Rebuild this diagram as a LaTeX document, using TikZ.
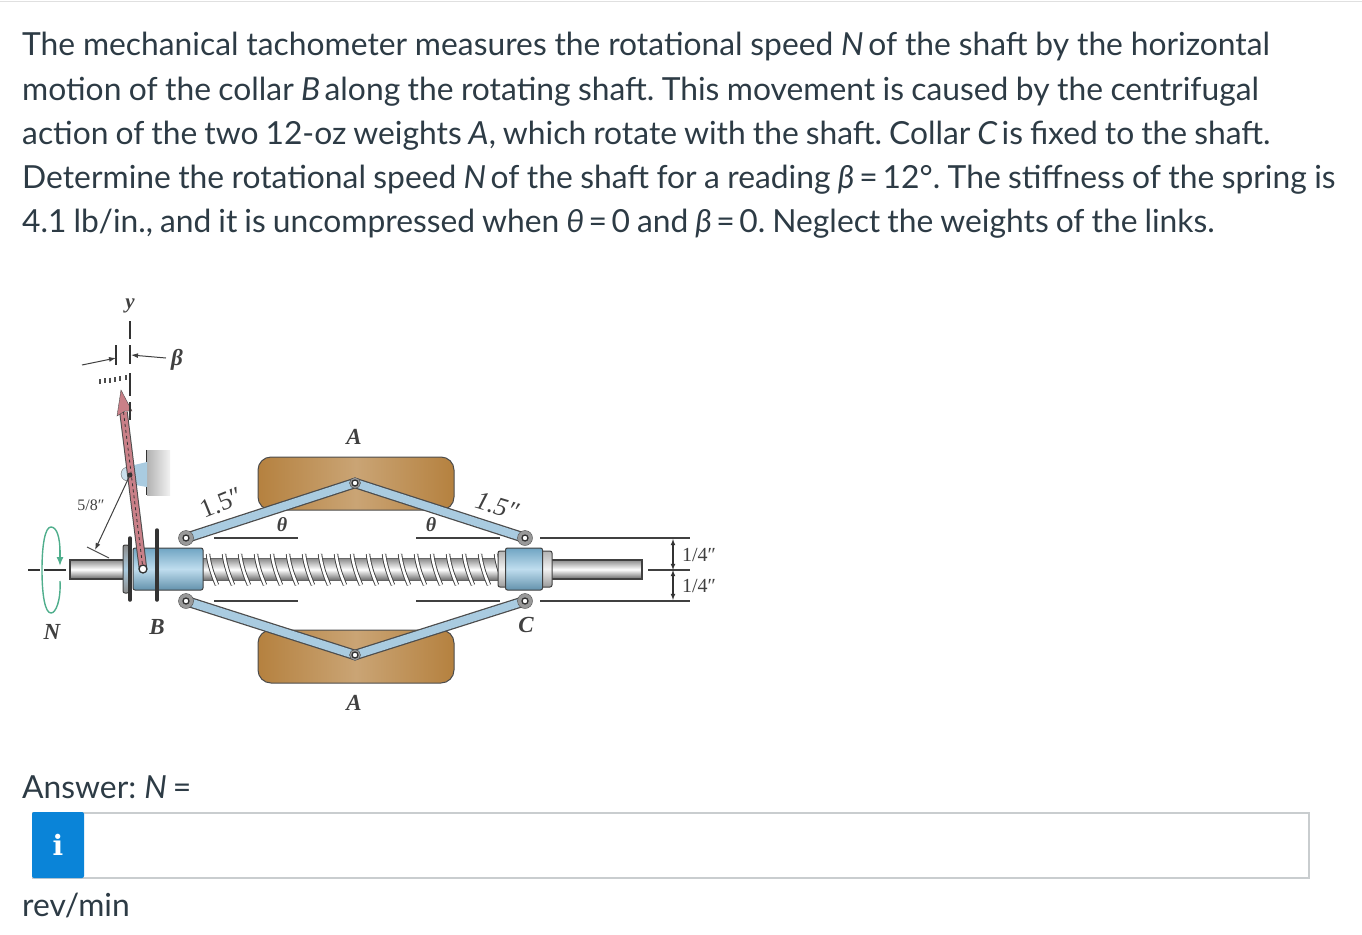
\documentclass[tikz,border=0pt]{standalone}
\usepackage{fontspec}
\setmainfont{Lato}
\newfontfamily\figfont{Liberation Serif}
\newfontfamily\iconfont{DejaVu Serif}
\usetikzlibrary{arrows.meta}
\definecolor{inkc}{HTML}{2D3B45}
\definecolor{figc}{HTML}{404040}
\definecolor{steelc}{HTML}{A9CBE0}
\definecolor{collarc}{HTML}{7FBBDD}
\definecolor{brassc}{HTML}{B5813F}
\definecolor{pointc}{HTML}{C98088}
\definecolor{greenc}{HTML}{4FAE8C}
\definecolor{boxc}{HTML}{C9CDCF}
\definecolor{infoc}{HTML}{0A84D8}
\newcommand{\vv}[1]{\textit{#1}\hspace{-3pt}}
\newcommand{\eqq}{\hspace{-2.5pt} = \hspace{-2.5pt}}
\begin{document}
\begin{tikzpicture}[x=1pt,y=-1pt]
  \tikzstyle{line}=[inner sep=0pt,anchor=base west,text=inkc,font=\fontsize{31.8}{40}\selectfont\frenchspacing]
  \tikzstyle{lab}=[inner sep=0pt,text=figc,font=\figfont\bfseries\itshape\fontsize{23}{26}\selectfont]
  \tikzstyle{dim}=[inner sep=0pt,text=figc,font=\figfont\fontsize{20}{24}\selectfont]
  \tikzstyle{weight}=[draw=black!70,line width=1pt,rounded corners=13pt,minimum width=196pt,minimum height=53pt,inner sep=0pt,left color=brassc,right color=brassc,middle color=brassc!72!white]
  \tikzstyle{collar}=[draw=black!75,line width=1pt,rounded corners=2pt,inner sep=0pt,top color=collarc!88!black,bottom color=collarc!78!black,middle color=collarc!50!white]
  \tikzstyle{rod}=[draw=black!75,line width=1.3pt,inner sep=0pt,top color=black!45,bottom color=black!60,middle color=white]
  \tikzstyle{refline}=[draw=black!75,line width=1.3pt]
  \tikzstyle{linkout}=[draw=black!70,line width=10.5pt]
  \tikzstyle{linkin}=[draw=steelc,line width=8pt]
  \tikzstyle{pin}=[circle,draw=black!80,fill=white,line width=1.3pt,minimum size=6pt,inner sep=0pt]
  \tikzstyle{mount}=[circle,fill=black!40,draw=black!70,minimum size=15pt,inner sep=0pt]
  \tikzstyle{arr}=[-{Latex[length=7pt,width=5pt]},black!75,line width=1pt]
  \useasboundingbox (0,0) rectangle (1362,934);
  \draw[black!12,line width=1pt] (0,2) -- (1362,2);

  % question text
  \node[line] (q1) at (22,56) {\spaceskip=7.8pt The mechanical tachometer measures the rotational speed \vv{N} of the shaft by the horizontal};
  \node[line] (q2) at (22,100) {\spaceskip=7.4pt motion of the collar \vv{B} along the rotating shaft. This movement is caused by the centrifugal};
  \node[line] (q3) at (22,144) {\spaceskip=7pt action of the two 12-oz weights \textit{A}, which rotate with the shaft. Collar \vv{C} is fixed to the shaft.};
  \node[line] (q4) at (22,188) {\spaceskip=7.4pt Determine the rotational speed \vv{N} of the shaft for a reading \textit{β}\eqq 12°. The stiffness of the spring is};
  \node[line] (q5) at (22,232) {\spaceskip=7pt 4.1 lb/in., and it is uncompressed when \textit{θ}\eqq 0 and \textit{β}\eqq 0. Neglect the weights of the links.};

  % pins
  \coordinate (pivot) at (130,475);
  \coordinate (tip) at (121,390);
  \coordinate (foot) at (143,569);
  \coordinate (lt) at (186,538);
  \coordinate (lb) at (186,601);
  \coordinate (rt) at (525,538);
  \coordinate (rb) at (525,601);
  \coordinate (at) at (355,483);
  \coordinate (ab) at (355,655);

  % weights
  \node[weight] (wtop) at (356,483.5) {};
  \node[weight] (wbot) at (356,656.5) {};

  % reference lines
  \draw[refline] (214,538) -- (298,538);
  \draw[refline] (214,601) -- (298,601);
  \draw[refline] (416,538) -- (500,538);
  \draw[refline] (416,601) -- (500,601);
  \draw[refline] (540,538) -- (690,538);
  \draw[refline] (540,601) -- (690,601);
  \draw[refline] (648,570) -- (690,570);

  % shaft and spring
  \node[rod,minimum width=56pt,minimum height=19pt] (shaftl) at (98,569.5) {};
  \node[rod,minimum width=92pt,minimum height=19pt] (shaftr) at (596,569.5) {};
  \node[rod,draw=black!60,minimum width=300pt,minimum height=22pt] (core) at (352,569.5) {};
  \foreach \x in {208,224,...,496}{
    \draw[black!75,line width=4.4pt] (\x,554) .. controls (\x+1,565) and (\x+6,578) .. (\x+9,585);
    \draw[white,line width=2.6pt] (\x,554) .. controls (\x+1,565) and (\x+6,578) .. (\x+9,585);
  }

  % links
  \foreach \a/\b in {lt/at,at/rt,lb/ab,ab/rb}{
    \draw[linkout] (\a) -- (\b);
  }
  \foreach \a/\b in {lt/at,at/rt,lb/ab,ab/rb}{
    \draw[linkin] (\a) -- (\b);
  }

  % collars
  \node[collar,minimum width=70pt,minimum height=42pt] (collb) at (168,569) {};
  \node[collar,top color=black!45,bottom color=black!45,middle color=steelc,minimum width=6pt,minimum height=48pt] (platb) at (126,569) {};
  \draw[black!80,line width=3.5pt,line cap=round] (130,538) -- (130,600);
  \draw[black!80,line width=3.5pt,line cap=round] (157,530) -- (157,600);
  \node[collar,top color=black!30,bottom color=black!40,middle color=black!5,minimum width=54pt,minimum height=36pt] (collc) at (525,569) {};
  \node[collar,minimum width=37pt,minimum height=42pt] (collcc) at (524,569) {};

  % pins on collars
  \foreach \p in {lt,lb,rt,rb}{
    \node[mount] (m\p) at (\p) {};
    \node[pin] (n\p) at (\p) {};
  }
  \node[mount,minimum size=11pt] (mat) at (at) {};
  \node[pin] (nat) at (at) {};
  \node[mount,minimum size=11pt] (mab) at (ab) {};
  \node[pin] (nab) at (ab) {};

  % bracket
  \node[inner sep=0pt,minimum width=23pt,minimum height=45pt,left color=black!30,right color=black!5] (wall) at (158.5,472.5) {};
  \draw[black!80,line width=1.3pt] (wall.north west) -- (wall.south west);
  \fill[steelc] (130,466) -- (147,462) -- (147,487) -- (130,484) -- cycle;
  \draw[black!60,fill=steelc!60] (128,474) circle (7pt);

  % pointer
  \coordinate (neck) at (123.5,412);
  \draw[black!70,line width=8.5pt] (neck) -- (foot);
  \draw[pointc,line width=6.5pt] (neck) -- (foot);
  \draw[black!80,line width=.8pt,dashed] (neck) -- (foot);
  \fill[pointc,draw=black!70] (tip) -- (132,411) -- (125,411) -- (117,416) -- cycle;
  \node[pin,minimum size=8pt] (nfoot) at (foot) {};
  \fill[black!80] (pivot) circle (2.5pt);

  % y axis and scale
  \node[lab,font=\figfont\bfseries\itshape\fontsize{21}{24}\selectfont] (ylab) at (130,306) {y};
  \draw[black!80,line width=1.2pt] (130,321) -- (130,339);
  \draw[black!80,line width=1.2pt] (130,345) -- (130,364);
  \draw[black!80,line width=1.2pt] (130,373) -- (130,396);
  \draw[black!80,line width=1.2pt] (130,402) -- (130,420);
  \foreach \x/\y in {100/379,105/378,110/377.5,115/377,120/376,126/375}{
    \draw[black!70,line width=1.2pt] (\x,\y) -- (\x,\y+5);
  }

  % beta
  \coordinate (bl) at (82,365);
  \coordinate (br) at (166,358);
  \coordinate (tl) at (116,358);
  \coordinate (trr) at (131,355);
  \draw[black!80,line width=1.2pt] (116,345) -- (116,365);
  \draw[arr] (bl) -- (tl);
  \draw[arr] (br) -- (trr);
  \node[lab] (blab) at (177,360) {β};

  % 5/8 dimension
  \coordinate (dimend) at (95,550);
  \draw[arr] (pivot) -- (dimend);
  \draw[black!70,line width=1pt] (87,547) -- (109,558);
  \node[dim,font=\figfont\fontsize{16}{18}\selectfont] (fiveeighths) at (91,505) {5/8″};

  % rotation
  \draw[greenc,line width=1.4pt] (60,581) .. controls (61,600) and (56,613) .. (51,613) .. controls (45,613) and (42,595) .. (42,570) .. controls (42,545) and (45,527) .. (51,527) .. controls (57,527) and (60,538) .. (60,552);
  \coordinate (rotend) at (60,566);
  \coordinate (rotbeg) at (60,550);
  \draw[-{Latex[length=9pt,width=7pt]},greenc,line width=1.4pt] (rotbeg) -- (rotend);
  \draw[black!80,line width=1.3pt] (28,570) -- (40,570);
  \draw[black!80,line width=1.3pt] (44,570) -- (66,570);

  % labels
  \node[lab] (alab) at (354,437) {A};
  \node[lab] (alab2) at (354,703) {A};
  \node[lab,font=\figfont\bfseries\itshape\fontsize{20}{24}\selectfont] (th1) at (282,525) {θ};
  \node[lab,font=\figfont\bfseries\itshape\fontsize{20}{24}\selectfont] (th2) at (431,525) {θ};
  \node[dim,font=\figfont\fontsize{26}{28}\selectfont,rotate=22] (ll) at (221,503) {1.5″};
  \node[dim,font=\figfont\itshape\fontsize{26}{28}\selectfont,rotate=-17] (lr) at (497,506) {1.5″};
  \node[lab] (nlab) at (52,632) {N};
  \node[lab] (blab2) at (157,627) {B};
  \node[lab] (clab) at (526,625) {C};

  % quarter dimensions
  \coordinate (d1) at (673,539);
  \coordinate (d2) at (673,570);
  \coordinate (d3) at (673,600);
  \draw[latex-latex,black!80,line width=1.1pt] (d1) -- (d2);
  \draw[latex-latex,black!80,line width=1.1pt] (d2) -- (d3);
  \node[dim] (q4a) at (699,555) {1/4″};
  \node[dim] (q4b) at (699,586) {1/4″};

  % answer box
  \node[line] (ans) at (22,798) {Answer: \vv{N}\hspace{9pt}=};
  \node[draw=boxc,fill=white,line width=2pt,minimum width=1276pt,minimum height=65pt,inner sep=0pt] (field) at (670.5,845) {};
  \node[fill=infoc,rounded corners=2pt,minimum width=52pt,minimum height=66pt,inner sep=0pt,text=white,font=\iconfont\bfseries\fontsize{28}{30}\selectfont] (info) at (58,845) {i};
  \node[line] (unit) at (22,916) {rev/min};
\end{tikzpicture}
\end{document}
